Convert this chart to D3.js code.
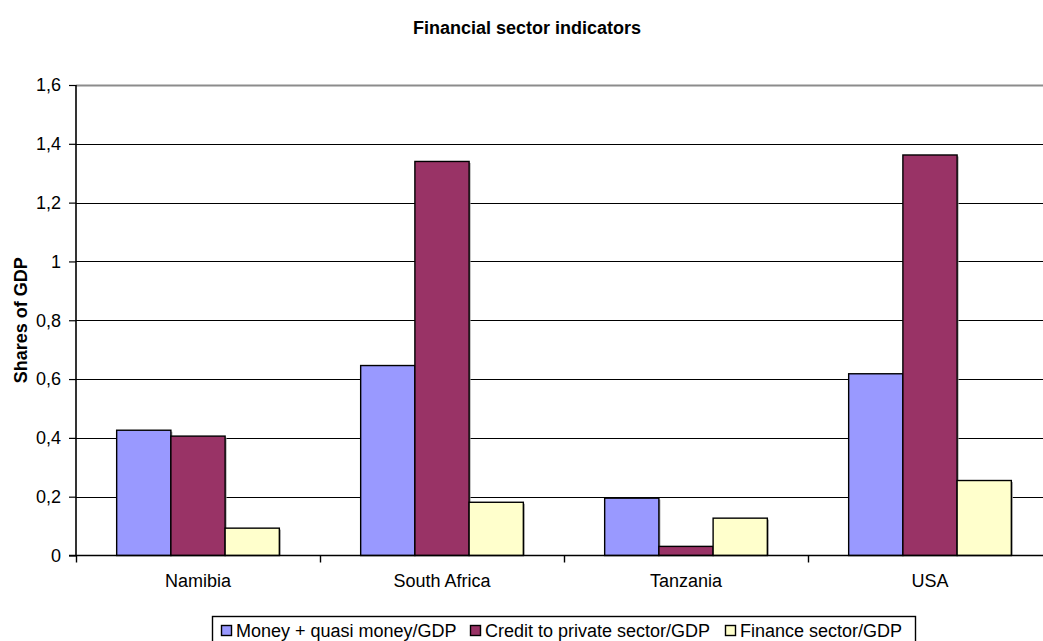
<!DOCTYPE html>
<html>
<head>
<meta charset="utf-8">
<script src="https://cdn.jsdelivr.net/npm/d3@7"></script>
<style>
  body { margin: 0; background: #fff; }
  svg { display: block; font-family: "Liberation Sans", Arial, sans-serif; }
</style>
</head>
<body>
<svg id="area" width="1043" height="641"></svg>
<script>
// data
const categories = ['Namibia', 'South Africa', 'Tanzania', 'USA'];
const seriesNames = ['Money + quasi money/GDP', 'Credit to private sector/GDP', 'Finance sector/GDP'];
const moneyQuasi = [0.426, 0.646, 0.195, 0.618];
const creditPrivate = [0.406, 1.34, 0.031, 1.362];
const financeSector = [0.093, 0.181, 0.127, 0.255];
const yTicks = [0, 0.2, 0.4, 0.6, 0.8, 1, 1.2, 1.4, 1.6];
const colors = ['#9999ff', '#993366', '#ffffcc'];

const values = [moneyQuasi, creditPrivate, financeSector];
const svg = d3.select('#area');

const margin = { top: 85, left: 76, bottom: 555.5, right: 1052 };

const x = d3.scaleBand()
  .domain(categories)
  .range([margin.left, margin.right]);

// gap width 150% as in the original spreadsheet chart
const gap = 1.5;
const barW = x.bandwidth() / (seriesNames.length + gap);
const x1 = d3.scaleBand()
  .domain(d3.range(seriesNames.length))
  .range([barW * gap / 2, barW * gap / 2 + barW * seriesNames.length]);

const y = d3.scaleLinear()
  .domain([0, 1.6])
  .range([margin.bottom, margin.top]);

const fmt = (d) => String(d).replace('.', ',');

// gridlines
svg.append('g')
  .selectAll('line')
  .data(yTicks.filter((d) => d > 0))
  .join('line')
  .attr('x1', margin.left)
  .attr('x2', margin.right)
  .attr('y1', (d) => Math.round(y(d)) + 0.5)
  .attr('y2', (d) => Math.round(y(d)) + 0.5)
  .attr('stroke', (d) => (d === 1.6 ? '#8c8c8c' : '#000'))
  .attr('stroke-width', (d) => (d === 1.6 ? 2 : 1.2));

// bars
const rows = [];
categories.forEach((c, i) => {
  values.forEach((s, j) => rows.push({ cat: c, s: j, v: s[i] }));
});

const bars = svg.append('g');
bars.selectAll('rect.shadow')
  .data(rows)
  .join('rect')
  .attr('class', 'shadow')
  .attr('x', (d) => x(d.cat) + x1(d.s) + 1.5)
  .attr('y', (d) => y(d.v) + 1.5)
  .attr('width', x1.bandwidth())
  .attr('height', (d) => y(0) - y(d.v) - 1.5)
  .attr('fill', '#a0a0a0');

bars.selectAll('rect.bar')
  .data(rows)
  .join('rect')
  .attr('class', 'bar')
  .attr('x', (d) => x(d.cat) + x1(d.s))
  .attr('y', (d) => y(d.v))
  .attr('width', x1.bandwidth())
  .attr('height', (d) => y(0) - y(d.v))
  .attr('fill', (d) => colors[d.s])
  .attr('stroke', '#000')
  .attr('stroke-width', 1.4);

// y axis
const yAxis = d3.axisLeft(y).tickValues(yTicks).tickFormat(fmt).tickSize(7).tickPadding(8);
const gy = svg.append('g')
  .attr('transform', `translate(${margin.left},0)`)
  .call(yAxis);
gy.select('.domain').attr('stroke-width', 1.6).attr('d', `M0,${margin.top}V${margin.bottom}`);
gy.selectAll('.tick line').attr('stroke-width', 1.2);
gy.selectAll('text').style('font-size', '18px').attr('fill', '#000')
  .style('font-family', '"Liberation Sans", Arial, sans-serif');

// x axis: ticks on category boundaries
const gx = svg.append('g');
gx.append('line')
  .attr('x1', margin.left - 7)
  .attr('x2', margin.right)
  .attr('y1', y(0))
  .attr('y2', y(0))
  .attr('stroke', '#000')
  .attr('stroke-width', 1.6);
gx.selectAll('line.tk')
  .data(categories)
  .join('line')
  .attr('class', 'tk')
  .attr('x1', (d) => Math.round(x(d)) + 0.5)
  .attr('x2', (d) => Math.round(x(d)) + 0.5)
  .attr('y1', y(0))
  .attr('y2', y(0) + 7)
  .attr('stroke', '#000')
  .attr('stroke-width', 1.4);
gx.selectAll('text')
  .data(categories)
  .join('text')
  .attr('x', (d) => x(d) + x.bandwidth() / 2)
  .attr('y', 587)
  .attr('text-anchor', 'middle')
  .style('font-size', '18px')
  .text((d) => d);

// titles
svg.append('text')
  .attr('x', 527)
  .attr('y', 34)
  .attr('text-anchor', 'middle')
  .style('font-size', '18px')
  .style('font-weight', 'bold')
  .text('Financial sector indicators');

svg.append('text')
  .attr('transform', `translate(27,${(margin.top + margin.bottom) / 2}) rotate(-90)`)
  .attr('text-anchor', 'middle')
  .style('font-size', '18px')
  .style('font-weight', 'bold')
  .text('Shares of GDP');

// legend
const lg = svg.append('g');
lg.append('rect')
  .attr('x', 212.5)
  .attr('y', 616.5)
  .attr('width', 703)
  .attr('height', 40)
  .attr('fill', '#fff')
  .attr('stroke', '#000')
  .attr('stroke-width', 1.4);

const legendX = [221, 470, 725];
seriesNames.forEach((name, i) => {
  lg.append('rect')
    .attr('x', legendX[i] + 0.5)
    .attr('y', 625.5)
    .attr('width', 10)
    .attr('height', 10)
    .attr('fill', colors[i])
    .attr('stroke', '#000')
    .attr('stroke-width', 1.4);
  lg.append('text')
    .attr('x', legendX[i] + 15)
    .attr('y', 637)
    .style('font-size', '18px')
    .text(name);
});
</script>
</body>
</html>
